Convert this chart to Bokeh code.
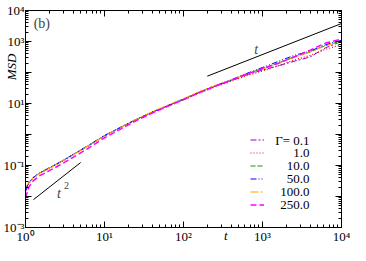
import math
from bokeh.plotting import figure
from bokeh.models import LogAxis, FixedTicker, Label, Legend, LegendItem, Range1d
from bokeh.embed import file_html
from bokeh.resources import INLINE

# ---- data ----
t = [1, 1.1, 1.25, 1.5, 2, 2.8, 4, 6, 10, 16, 25, 40, 63, 100, 160, 250, 400,
     630, 1000, 1600, 2500, 4000, 6300, 10000]

msd_g01 = [0.0141, 0.0275, 0.040, 0.056, 0.083, 0.130, 0.222, 0.41, 0.91, 1.70, 3.02, 5.2,
           8.5, 13.8, 23.4, 36.0, 54.0, 84.0, 120, 166, 229, 316, 631, 1000]
msd_g1 = [0.0158, 0.0266, 0.039, 0.055, 0.081, 0.128, 0.218, 0.40, 0.89, 1.66, 2.92, 5.0,
          8.1, 13.0, 22.0, 34.0, 52.0, 79.0, 112, 166, 251, 355, 562, 794]
msd_g10 = [0.0178, 0.0282, 0.041, 0.057, 0.084, 0.132, 0.224, 0.41, 0.92, 1.70, 3.0, 5.2,
           8.4, 13.6, 23.0, 36.5, 56.5, 89.0, 135, 205, 320, 460, 740, 1047]
msd_g50 = [0.0158, 0.0282, 0.041, 0.057, 0.084, 0.133, 0.226, 0.42, 0.93, 1.72, 3.05, 5.3,
           8.5, 13.8, 23.4, 37.0, 58.0, 93.0, 145, 229, 355, 490, 790, 1096]
msd_g100 = [0.020, 0.0282, 0.040, 0.056, 0.082, 0.130, 0.220, 0.41, 0.91, 1.70, 3.05, 5.4,
            8.9, 14.5, 24.5, 38.0, 57.0, 88.0, 130, 195, 305, 450, 740, 1000]
msd_g250 = [0.0089, 0.020, 0.032, 0.046, 0.068, 0.107, 0.182, 0.34, 0.78, 1.50, 2.75, 4.9,
            8.1, 13.3, 22.6, 36.0, 56.0, 89.0, 132, 200, 316, 525, 890, 1200]

series_labels = ["\u0393= 0.1", "1.0", "10.0", "50.0", "100.0", "250.0"]
series_values = [msd_g01, msd_g1, msd_g10, msd_g50, msd_g100, msd_g250]
series_colors = ["#9400d3", "#ff0000", "#00a000", "#0000ff", "#ffa500", "#ff00ff"]
series_dashes = ["6 2 2 2", "1 2", "5 2", "6 2 1 2 1 2", "8 2 2 2", "6 3"]
series_widths = [1, 1.2, 1, 1, 1, 1.5]

guide1_t = [200, 10000]
guide1_msd = [76, 3800]
guide2_t = [1.26, 5.0]
guide2_msd = [0.0079, 0.125]

x_major = [1, 10, 100, 1000, 10000]
x_major_labels = ["10\u2070", "10\u00b9", "10\u00b2", "10\u00b3", "10\u2074"]
y_major = [0.001, 0.01, 0.1, 1, 10, 100, 1000, 10000]
y_major_labels = ["10\u207b\u00b3", "", "10\u207b\u00b9", "", "10\u00b9", "", "10\u00b3", "10\u2074"]

x_minor = [k * 10 ** d for d in range(0, 4) for k in range(2, 10)]
y_minor = [k * 10.0 ** d for d in range(-3, 4) for k in range(2, 10)]

FONT = "Liberation Serif"
PAD = "\u2007"  # figure space, used to shift the axis titles along their axes

p = figure(width=350, height=245, x_axis_type="log", y_axis_type="log",
           x_range=Range1d(1, 1e4), y_range=Range1d(1e-3, 1e4),
           output_backend="svg", toolbar_location=None,
           min_border_left=25, min_border_right=9, min_border_top=10, min_border_bottom=16)
p.grid.visible = False
p.outline_line_color = "black"
p.background_fill_color = "white"
p.border_fill_color = "white"

renderers = []
for vals, col, dash, w in zip(series_values, series_colors, series_dashes, series_widths):
    r = p.line(t, vals, line_color=col, line_dash=dash, line_width=w)
    renderers.append(r)

p.line(guide1_t, guide1_msd, line_color="black", line_width=1)
p.line(guide2_t, guide2_msd, line_color="black", line_width=1)


def style_axis(ax, ticks, minor, labels, show):
    ax.ticker = FixedTicker(ticks=ticks, minor_ticks=minor)
    ax.major_tick_in = 6
    ax.major_tick_out = 0
    ax.minor_tick_in = 3
    ax.minor_tick_out = 0
    ax.axis_line_color = "black"
    ax.major_tick_line_color = "black"
    ax.minor_tick_line_color = "black"
    if show:
        ax.major_label_overrides = {v: s for v, s in zip(ticks, labels)}
        ax.major_label_text_font = FONT
        ax.major_label_text_font_size = "13px"
        ax.major_label_text_color = "black"
        ax.major_label_standoff = 1
        ax.axis_label_text_font = FONT
        ax.axis_label_text_font_style = "italic"
        ax.axis_label_text_font_size = "13px"
        ax.axis_label_text_color = "black"
    else:
        ax.major_label_overrides = {v: " " for v in ticks}
        ax.major_label_text_font_size = "1px"
        ax.major_label_standoff = 0


style_axis(p.xaxis[0], x_major, x_minor, x_major_labels, True)
style_axis(p.yaxis[0], y_major, y_minor, y_major_labels, True)

p.xaxis[0].axis_label = PAD * 13 + "t"
p.xaxis[0].axis_label_standoff = -19
p.yaxis[0].axis_label = PAD * 16 + "MSD"
p.yaxis[0].axis_label_standoff = -18

top = LogAxis()
right = LogAxis()
style_axis(top, x_major, x_minor, x_major_labels, False)
style_axis(right, y_major, y_minor, y_major_labels, False)
p.add_layout(top, "above")
p.add_layout(right, "right")

items = [LegendItem(label=" ", renderers=[r]) for r in renderers]
legend = Legend(items=items, location=(225, 16), padding=0, margin=0, spacing=0,
                glyph_width=14, glyph_height=13, label_height=13, label_width=0,
                label_standoff=0, label_text_font=FONT, label_text_font_size="13px",
                border_line_alpha=0, background_fill_alpha=0)
p.add_layout(legend)

for i, lab in enumerate(series_labels):
    p.add_layout(Label(x=284, y=87.5 - 13 * i, x_units="screen", y_units="screen", text=lab,
                       text_font=FONT, text_font_size="13px", text_color="black",
                       text_align="right", text_baseline="middle"))

p.add_layout(Label(x=832, y=550, text="t", text_font=FONT, text_font_style="italic",
                   text_font_size="14px", text_align="center", text_baseline="middle"))
p.add_layout(Label(x=2.65, y=0.0126, text="t", text_font=FONT, text_font_style="italic",
                   text_font_size="14px", text_align="center", text_baseline="middle"))
p.add_layout(Label(x=3.3, y=0.023, text="2", text_font=FONT,
                   text_font_size="10px", text_align="center", text_baseline="middle"))
p.add_layout(Label(x=1.61, y=3800, text="(b)", text_font=FONT,
                   text_font_size="14px", text_align="center", text_baseline="middle"))

open("out.html", "w").write(file_html(p, INLINE))
